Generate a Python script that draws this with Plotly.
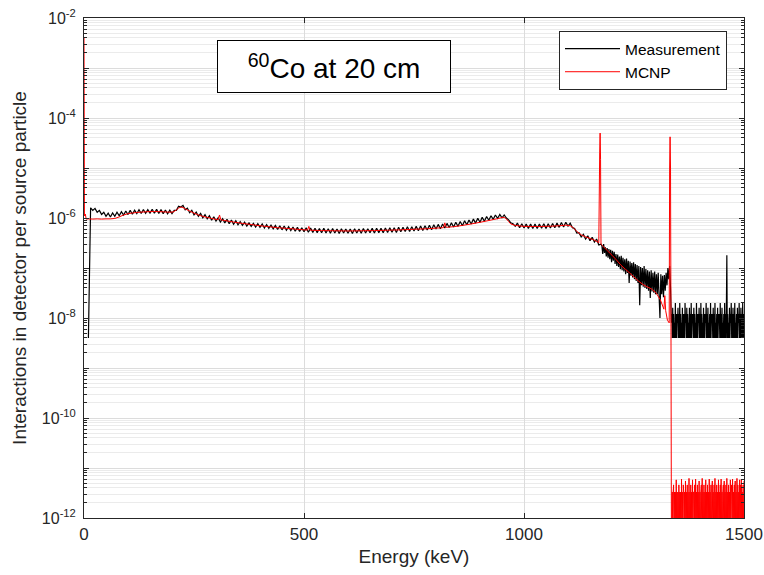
import numpy as np
import plotly.graph_objects as go

# ---------------- data ----------------
# Measurement, region 1: channels every 5 keV from 0 keV to 1175 keV, units of 1e-9
meas_a_start, meas_a_step = 0, 5
meas_a_e9 = [
    np.nan, np.nan, 4, 1600, 1420, 1560, 1300, 1420, 1180, 1300,          # 0-45
    1080, 1250, 1050, 1260, 1080, 1300, 1110, 1340, 1140, 1380,           # 50-95
    1170, 1420, 1190, 1430, 1220, 1460, 1230, 1480, 1240, 1470,           # 100-145
    1250, 1500, 1240, 1490, 1230, 1470, 1220, 1450, 1210, 1430,           # 150-195
    1220, 1420, 1420, 1720, 1660, 1780, 1460, 1580, 1280, 1430,           # 200-245
    1160, 1310, 1080, 1240, 1010, 1170, 960, 1110, 900, 1060,             # 250-295
    870, 1010, 830, 970, 800, 940, 770, 910, 750, 880,                    # 300-345
    730, 850, 710, 830, 690, 800, 680, 780, 660, 770,                     # 350-395
    650, 760, 630, 740, 620, 720, 605, 710, 590, 700,                     # 400-445
    580, 690, 570, 670, 560, 660, 545, 650, 540, 640,                     # 450-495
    530, 635, 520, 630, 515, 625, 510, 615, 505, 620,                     # 500-545
    500, 610, 495, 615, 500, 605, 490, 610, 500, 605,                     # 550-595
    495, 600, 490, 610, 500, 605, 495, 615, 500, 610,                     # 600-645
    505, 620, 500, 625, 510, 620, 505, 630, 515, 635,                     # 650-695
    520, 640, 515, 650, 530, 655, 535, 665, 540, 670,                     # 700-745
    550, 680, 555, 690, 565, 700, 575, 715, 585, 730,                     # 750-795
    600, 745, 610, 760, 630, 780, 645, 800, 660, 820,                     # 800-845
    680, 850, 700, 880, 730, 910, 760, 950, 790, 990,                     # 850-895
    820, 1030, 860, 1070, 900, 1110, 940, 1150, 980, 1180,                # 900-945
    1010, 1150, 1000, 920, 800, 770, 680, 790, 640, 770,                  # 950-995
    630, 760, 620, 760, 615, 755, 620, 760, 625, 765,                     # 1000-1045
    620, 770, 630, 780, 640, 790, 650, 810, 660, 820,                     # 1050-1095
    690, 790, 640, 620, 500, 510, 420, 470, 380, 440,                     # 1100-1145
    350, 410, 330, 380, 290, 300,                                         # 1150-1175
]
# Measurement, region 2: channels every 2 keV from 1177 keV to 1335 keV, units of 1e-9
meas_b_start, meas_b_step = 1177, 2
meas_b_e9 = [
    280, 190, 300, 200, 260, 170, 250, 160, 240, 150,
    230, 130, 220, 140, 210, 120, 190, 110, 185, 105,
    170, 95, 175, 90, 160, 85, 150, 75, 155, 80,
    140, 50, 135, 70, 125, 65, 130, 60, 120, 55,
    115, 50, 110, 18, 105, 45, 100, 42, 110, 40,
    95, 38, 90, 35, 85, 25, 90, 34, 80, 32,
    85, 30, 75, 30, 80, 28, 10, 75, 30, 70,
    26, 72, 35, 80, 45, 100, 60, 110, 40, 8,
]
# Measurement, region 3: channels every 1 keV from 1336 keV to 1500 keV, units of 1e-9
meas_c_start, meas_c_step = 1336, 1
meas_c_e9 = [
    12, 4, 16, 4, 12, 4, 8, 4, 20, 4, 12, 4, 12, 8, 16, 4, 12, 4, 20, 4,
    12, 4, 8, 4, 16, 4, 12, 4, 12, 4, 20, 8, 12, 4, 16, 4, 12, 4, 8, 4,
    16, 4, 12, 4, 20, 4, 12, 8, 12, 4, 16, 4, 12, 4, 8, 4, 20, 4, 12, 4,
    12, 8, 16, 4, 12, 4, 20, 4, 12, 4, 8, 4, 16, 4, 12, 4, 12, 8, 20, 4,
    12, 4, 16, 4, 8, 4, 12, 4, 20, 4, 12, 8, 12, 4, 16, 4, 12, 4, 20, 4,
    8, 4, 12, 4, 16, 4, 12, 8, 12, 4, 20, 4, 12, 4, 16, 4, 8, 4, 12, 4,
    20, 4, 12, 4, 16, 180, 4, 12, 4, 8, 4, 16, 4, 12, 8, 20, 4, 12, 4, 16,
    4, 12, 4, 20, 4, 8, 4, 12, 4, 16, 4, 12, 8, 20, 4, 12, 4, 16, 4, 12,
    4, 20, 4, 12, 4,
]
meas_unit = 1e-9

# MCNP, main region: explicit energies (keV) and values
mcnp_energy = [
    0, 1, 3, 5, 10, 20, 30, 40, 50, 60, 70, 80, 90, 100, 110, 120, 130, 140,
    150, 160, 170, 180, 190, 200, 205, 210, 215, 220, 225, 230, 240, 250, 260,
    270, 280, 290, 300, 305, 308, 311, 320, 340, 360, 380, 400, 420, 440, 460,
    480, 500, 508, 511, 514, 540, 570, 600, 630, 660, 690, 720, 750, 780, 810,
    817, 820, 823, 840, 860, 880, 900, 920, 940, 950, 955, 960, 965, 970, 980,
    1000, 1030, 1060, 1080, 1095, 1105, 1112, 1120, 1130, 1140, 1150, 1160,
    1168, 1170, 1172, 1173, 1174, 1175, 1178, 1190, 1200, 1210, 1220, 1230,
    1240, 1250, 1260, 1270, 1280, 1290, 1300, 1310, 1318, 1320, 1322, 1326,
    1330, 1331, 1332, 1333, 1334, 1335,
]
mcnp_value = [
    4e-3, 1.1e-6, 1.2e-6, 9.5e-7, 9.6e-7, 9.5e-7, 9.6e-7, 9.5e-7, 9.6e-7, 9.6e-7,
    9.8e-7, 1.05e-6, 1.15e-6, 1.22e-6, 1.26e-6, 1.29e-6, 1.31e-6, 1.33e-6,
    1.34e-6, 1.35e-6, 1.34e-6, 1.33e-6, 1.31e-6, 1.31e-6, 1.35e-6, 1.45e-6,
    1.58e-6, 1.66e-6, 1.62e-6, 1.52e-6, 1.38e-6, 1.25e-6, 1.15e-6,
    1.08e-6, 1.03e-6, 9.8e-7, 9.4e-7, 9.3e-7, 1.15e-6, 9.2e-7, 8.9e-7, 8.3e-7,
    7.8e-7, 7.4e-7, 7.0e-7, 6.7e-7, 6.4e-7, 6.2e-7,
    6.0e-7, 5.8e-7, 5.75e-7, 6.8e-7, 5.7e-7, 5.6e-7, 5.55e-7, 5.5e-7, 5.55e-7,
    5.6e-7, 5.7e-7, 5.8e-7, 5.95e-7, 6.1e-7, 6.35e-7,
    6.4e-7, 8.0e-7, 6.5e-7, 6.7e-7, 7.1e-7, 7.6e-7, 8.2e-7, 8.9e-7, 9.7e-7,
    1.02e-6, 1.03e-6, 9.6e-7, 8.5e-7, 7.6e-7, 7.1e-7,
    6.8e-7, 6.75e-7, 6.85e-7, 7.0e-7, 7.2e-7, 7.0e-7, 6.4e-7, 5.4e-7, 4.6e-7,
    4.2e-7, 3.9e-7, 3.6e-7,
    3.3e-7, 3.2e-7, 2e-5, 5e-5, 1.5e-5, 3e-7, 2.8e-7, 2.2e-7, 1.8e-7, 1.45e-7,
    1.15e-7, 9.5e-8,
    8e-8, 6.6e-8, 5.5e-8, 4.7e-8, 4.2e-8, 3.8e-8, 3.2e-8, 2.3e-8, 1.5e-8,
    2.8e-8, 1.4e-8, 9e-9,
    8e-9, 1e-5, 4.2e-5, 1e-5, 1e-8, 5e-13,
]
# MCNP, tail: channels every 1 keV from 1336 keV to 1500 keV, units of 1e-12
mcnp_tail_start, mcnp_tail_step = 1336, 1
mcnp_tail_e12 = [
    0.5, 3.3, 0.5, 3.3, 4.6, 0.5, 3.3, 0.5, 3.3, 0.5, 5.8, 0.5, 3.3, 0.5, 3.3, 0.5, 4.6, 0.5, 3.3, 0.5,
    3.3, 0.5, 6.0, 0.5, 3.3, 0.5, 4.6, 3.3, 0.5, 3.3, 0.5, 5.5, 0.5, 3.3, 0.5, 4.6, 0.5, 3.3, 0.5, 6.2,
    0.5, 3.3, 0.5, 4.6, 0.5, 3.3, 0.5, 5.8, 0.5, 3.3, 3.3, 0.5, 4.6, 0.5, 6.0, 0.5, 3.3, 0.5, 4.6, 0.5,
    3.3, 0.5, 5.5, 0.5, 3.3, 0.5, 3.3, 4.6, 0.5, 6.2, 0.5, 3.3, 0.5, 4.6, 0.5, 3.3, 0.5, 5.8, 0.5, 3.3,
    0.5, 4.6, 0.5, 3.3, 0.5, 6.0, 0.5, 3.3, 0.5, 4.6, 0.5, 3.3, 5.5, 0.5, 3.3, 0.5, 4.6, 0.5, 6.2, 0.5,
    3.3, 0.5, 4.6, 0.5, 3.3, 0.5, 5.8, 0.5, 3.3, 0.5, 4.6, 0.5, 6.0, 0.5, 3.3, 0.5, 3.3, 4.6, 0.5, 5.5,
    0.5, 3.3, 0.5, 4.6, 0.5, 6.2, 0.5, 3.3, 0.5, 4.6, 0.5, 3.3, 0.5, 5.8, 0.5, 3.3, 4.6, 0.5, 6.0, 0.5,
    3.3, 0.5, 4.6, 0.5, 5.5, 0.5, 3.3, 0.5, 6.2, 0.5, 4.6, 0.5, 3.3, 0.5, 5.8, 0.5, 4.6, 0.5, 6.0, 0.5,
    3.3, 0.5, 4.6, 0.5, 5.5,
]
mcnp_tail_unit = 1e-12

series_names = ["Measurement", "MCNP"]
x_tick_vals = [0, 500, 1000, 1500]
y_decades = list(range(-12, -1))
y_label_decades = [-12, -10, -8, -6, -4, -2]
annotation_text = "<sup>60</sup>Co at 20 cm"
x_title = "Energy (keV)"
y_title = "Interactions in detector per source particle"

# ---------------- assemble series ----------------
def channels(start, step, vals):
    return start + step * np.arange(len(vals))

meas_x = np.concatenate([
    channels(meas_a_start, meas_a_step, meas_a_e9),
    channels(meas_b_start, meas_b_step, meas_b_e9),
    channels(meas_c_start, meas_c_step, meas_c_e9),
])
meas_y = np.concatenate([
    np.array(meas_a_e9, dtype=float),
    np.array(meas_b_e9, dtype=float),
    np.array(meas_c_e9, dtype=float),
]) * meas_unit
mcnp_x = np.concatenate([
    np.array(mcnp_energy, dtype=float),
    channels(mcnp_tail_start, mcnp_tail_step, mcnp_tail_e12),
])
mcnp_y = np.concatenate([
    np.array(mcnp_value, dtype=float),
    np.array(mcnp_tail_e12, dtype=float) * mcnp_tail_unit,
])

FONT = "Liberation Sans, Arial, Helvetica, sans-serif"
AX = "#262626"

fig = go.Figure()
fig.add_trace(go.Scatter(x=meas_x, y=meas_y, mode="lines", name=series_names[0],
                         line=dict(color="black", width=1.2, simplify=False),
                         connectgaps=False))
fig.add_trace(go.Scatter(x=mcnp_x, y=mcnp_y, mode="lines", name=series_names[1],
                         line=dict(color="#ff0000", width=1, simplify=False)))

major_vals = [10.0 ** d for d in y_decades]
major_text = [f"10<sup>{d}</sup>" if d in y_label_decades else "" for d in y_decades]
minor_vals = [k * 10.0 ** d for d in y_decades[:-1] for k in range(2, 10)]

fig.update_layout(
    width=764, height=575,
    margin=dict(l=84, r=20, t=18, b=57, autoexpand=False),
    paper_bgcolor="white", plot_bgcolor="white",
    font=dict(family=FONT, color=AX, size=16),
    showlegend=True,
    legend=dict(x=0.7197, y=0.974, xanchor="left", yanchor="top",
                bgcolor="white", bordercolor=AX, borderwidth=1,
                font=dict(size=15.5, color="black", family=FONT),
                tracegroupgap=0, itemwidth=55),
    xaxis=dict(range=[0, 1500], tickmode="array", tickvals=x_tick_vals,
               automargin=False,
               showgrid=True, gridcolor="#dcdcdc", gridwidth=1, zeroline=False,
               showline=True, linecolor=AX, linewidth=1, mirror="ticks",
               ticks="inside", ticklen=5, tickcolor=AX,
               tickfont=dict(size=17, color=AX), ticklabelstandoff=1,
               title=dict(text=x_title, font=dict(size=19, color=AX), standoff=6)),
    yaxis=dict(type="log", range=[-12, -2], tickmode="array",
               tickvals=major_vals, ticktext=major_text, automargin=False,
               showgrid=True, gridcolor="#dcdcdc", gridwidth=1, zeroline=False,
               showline=True, linecolor=AX, linewidth=1, mirror="ticks",
               ticks="inside", ticklen=5, tickcolor=AX,
               tickfont=dict(size=16, color=AX), ticklabelstandoff=4,
               minor=dict(tickmode="array", tickvals=minor_vals, showgrid=True,
                          gridcolor="#ebebeb", ticks="inside", ticklen=3, tickcolor=AX),
               title=dict(text=y_title, font=dict(size=19, color=AX), standoff=10)),
)

fig.add_annotation(
    xref="paper", yref="paper", x=0.3788, y=0.902, xanchor="center", yanchor="middle",
    text=annotation_text, showarrow=False,
    font=dict(size=28, color="black", family=FONT),
    bordercolor="black", borderwidth=1, bgcolor="white", borderpad=1,
    width=230, height=49, align="center",
)

fig.write_html("out.html")
